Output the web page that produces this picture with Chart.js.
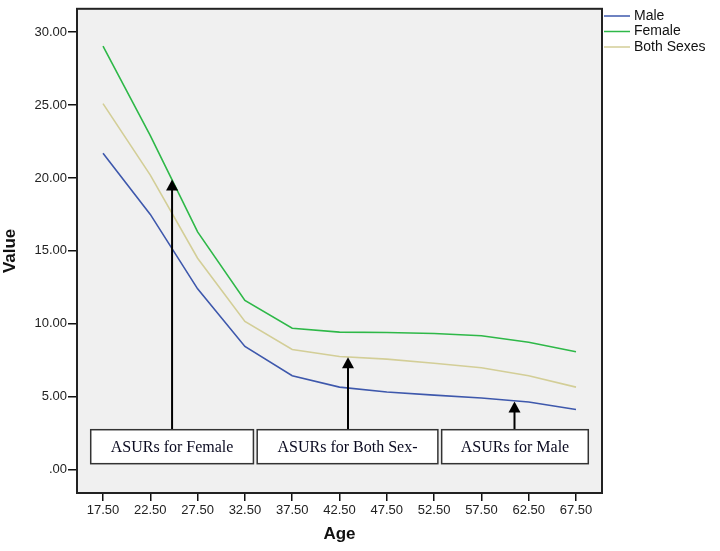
<!DOCTYPE html>
<html>
<head>
<meta charset="utf-8">
<script src="https://cdn.jsdelivr.net/npm/chart.js@4/dist/chart.umd.min.js"></script>
<style>
  body { margin: 0; background: #fff; }
</style>
</head>
<body>
<canvas id="chart" width="720" height="551"></canvas>
<script>
// Age groups (x) and rates per series
const ages = [17.5, 22.5, 27.5, 32.5, 37.5, 42.5, 47.5, 52.5, 57.5, 62.5, 67.5];
const male = [21.7, 17.5, 12.4, 8.45, 6.44, 5.66, 5.32, 5.11, 4.91, 4.64, 4.13];
const female = [29.04, 22.9, 16.3, 11.6, 9.7, 9.43, 9.4, 9.34, 9.18, 8.74, 8.08];
const bothSexes = [25.1, 20.2, 14.5, 10.16, 8.24, 7.76, 7.58, 7.3, 6.99, 6.44, 5.66];
const seriesNames = ['Male', 'Female', 'Both Sexes'];

const xTicks = [17.5, 22.5, 27.5, 32.5, 37.5, 42.5, 47.5, 52.5, 57.5, 62.5, 67.5];
const yTicks = [0, 5, 10, 15, 20, 25, 30];
const yTickLabels = ['.00', '5.00', '10.00', '15.00', '20.00', '25.00', '30.00'];

// text boxes with arrows pointing at the curves
const noteLabels = ['ASURs for Female', 'ASURs for Both Sex-', 'ASURs for Male'];
const noteArrowAge = [24.8, 43.4, 61.0];
const noteArrowValue = [19.9, 7.7, 4.68];

const notes = noteLabels.map((text, i) => ({
  text: text,
  x0: [16.2, 33.8, 53.3][i],
  x1: [33.4, 52.9, 68.8][i],
  y0: 2.74,
  y1: 0.41,
  ax: noteArrowAge[i],
  ay: noteArrowValue[i]
}));

function points(values) {
  return ages.map((a, i) => ({ x: a, y: values[i] }));
}

const frame = {
  id: 'frame',
  beforeDraw(chart) {
    const { ctx, chartArea: a } = chart;
    ctx.save();
    ctx.fillStyle = '#fff';
    ctx.fillRect(0, 0, chart.width, chart.height);
    ctx.fillStyle = '#f0f0f0';
    ctx.fillRect(a.left, a.top, a.right - a.left, a.bottom - a.top);
    ctx.restore();
  },
  afterDraw(chart) {
    const { ctx, chartArea: a } = chart;
    ctx.save();
    ctx.strokeStyle = '#222';
    ctx.lineWidth = 2;
    ctx.strokeRect(a.left, a.top, a.right - a.left, a.bottom - a.top);

    // legend outside the plot, top right
    ctx.font = '14px "Liberation Sans", Arial, sans-serif';
    ctx.textBaseline = 'middle';
    chart.data.datasets.forEach((ds, i) => {
      const y = 16 + i * 15.5;
      ctx.strokeStyle = ds.borderColor;
      ctx.lineWidth = 1.5;
      ctx.beginPath();
      ctx.moveTo(a.right + 2, y);
      ctx.lineTo(a.right + 28, y);
      ctx.stroke();
      ctx.fillStyle = '#111';
      ctx.fillText(ds.label, a.right + 32, y);
    });
    ctx.restore();
  }
};

const callouts = {
  id: 'callouts',
  afterDatasetsDraw(chart) {
    const { ctx } = chart;
    const xs = chart.scales.x, ys = chart.scales.y;
    ctx.save();
    notes.forEach(n => {
      const left = xs.getPixelForValue(n.x0), right = xs.getPixelForValue(n.x1);
      const top = ys.getPixelForValue(n.y0), bottom = ys.getPixelForValue(n.y1);
      const ax = xs.getPixelForValue(n.ax), ay = ys.getPixelForValue(n.ay);

      // arrow shaft and head
      ctx.strokeStyle = '#000';
      ctx.lineWidth = 2;
      ctx.beginPath();
      ctx.moveTo(ax, top);
      ctx.lineTo(ax, ay + 8);
      ctx.stroke();
      ctx.fillStyle = '#000';
      ctx.beginPath();
      ctx.moveTo(ax, ay);
      ctx.lineTo(ax - 6, ay + 11);
      ctx.lineTo(ax + 6, ay + 11);
      ctx.closePath();
      ctx.fill();

      // box
      ctx.fillStyle = '#fff';
      ctx.fillRect(left, top, right - left, bottom - top);
      ctx.strokeStyle = '#333';
      ctx.lineWidth = 1.5;
      ctx.strokeRect(left, top, right - left, bottom - top);
      ctx.fillStyle = '#0a0a20';
      ctx.font = '16px "Liberation Serif", "Times New Roman", serif';
      ctx.textAlign = 'center';
      ctx.textBaseline = 'middle';
      ctx.fillText(n.text, (left + right) / 2, (top + bottom) / 2 + 1);
    });
    ctx.restore();
  }
};

const tickFont = { family: '"Liberation Sans", Arial, sans-serif', size: 13 };
const titleFont = { family: '"Liberation Sans", Arial, sans-serif', size: 17, weight: 'bold' };

new Chart(document.getElementById('chart').getContext('2d'), {
  type: 'line',
  data: {
    datasets: [
      { label: seriesNames[0], data: points(male), borderColor: '#3E58AC' },
      { label: seriesNames[1], data: points(female), borderColor: '#2EB848' },
      { label: seriesNames[2], data: points(bothSexes), borderColor: '#D3CE97' }
    ]
  },
  options: {
    responsive: false,
    animation: false,
    layout: { padding: { top: 8, right: 118, left: 0, bottom: 0 } },
    elements: {
      line: { borderWidth: 1.6, tension: 0, fill: false },
      point: { radius: 0 }
    },
    plugins: {
      legend: { display: false },
      tooltip: { enabled: false }
    },
    scales: {
      x: {
        type: 'linear',
        min: 14.75,
        max: 70.25,
        afterBuildTicks: s => { s.ticks = xTicks.map(v => ({ value: v })); },
        afterFit: s => { s.height = 58; },
        ticks: {
          font: tickFont,
          color: '#222',
          padding: 2,
          maxRotation: 0,
          autoSkip: false,
          callback: v => v.toFixed(2)
        },
        grid: { drawOnChartArea: false, tickLength: 8, color: '#111', lineWidth: 1.5 },
        border: { display: false },
        title: { display: true, text: 'Age', font: titleFont, color: '#111', padding: { top: 0, bottom: 6 } }
      },
      y: {
        min: -1.6,
        max: 31.6,
        afterBuildTicks: s => { s.ticks = yTicks.map(v => ({ value: v })); },
        afterFit: s => { s.width = 77; },
        ticks: {
          font: tickFont,
          color: '#222',
          padding: 1,
          autoSkip: false,
          callback: (v, i) => yTickLabels[i]
        },
        grid: { drawOnChartArea: false, tickLength: 9, color: '#111', lineWidth: 1.5 },
        border: { display: false },
        title: { display: true, text: 'Value', font: titleFont, color: '#111', padding: { top: 0, bottom: 0 } }
      }
    }
  },
  plugins: [frame, callouts]
});
</script>
</body>
</html>
